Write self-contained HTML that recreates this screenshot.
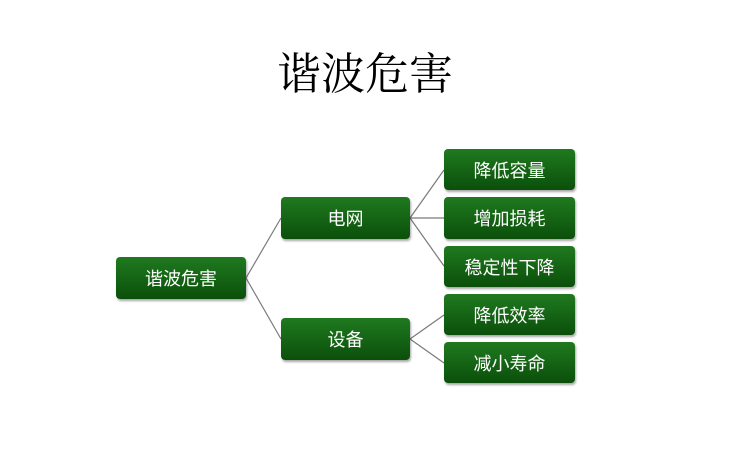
<!DOCTYPE html>
<html><head><meta charset="utf-8"><style>
html,body{margin:0;padding:0;background:#fff;}
body{width:750px;height:450px;position:relative;overflow:hidden;font-family:"Liberation Sans","Noto Sans CJK SC",sans-serif;}
.t{position:absolute;left:0;width:730px;top:38px;text-align:center;font-family:"Liberation Serif","Noto Serif CJK SC",serif;font-size:44px;color:#000;}
.b{position:absolute;box-sizing:border-box;border-radius:4px;background:linear-gradient(#1f7a1f,#0b4f0b);color:#fff;font-size:18px;display:flex;align-items:center;justify-content:center;box-shadow:1px 2px 2px rgba(0,0,0,.35);}
svg{position:absolute;left:0;top:0;}
</style></head><body>
<div class="t">谐波危害</div>
<svg width="750" height="450"><g stroke="#7a7a7a" stroke-width="1.2" fill="none">
<line x1="246" y1="278" x2="281" y2="218"/><line x1="246" y1="278" x2="281" y2="339"/>
<line x1="410" y1="218" x2="444" y2="170"/><line x1="410" y1="218" x2="444" y2="218"/><line x1="410" y1="218" x2="444" y2="266"/>
<line x1="410" y1="339" x2="444" y2="315"/><line x1="410" y1="339" x2="444" y2="363"/>
</g></svg>
<div class="b" style="left:116px;top:257px;width:130px;height:42px">谐波危害</div>
<div class="b" style="left:281px;top:197px;width:129px;height:42px">电网</div>
<div class="b" style="left:281px;top:318px;width:129px;height:42px">设备</div>
<div class="b" style="left:444px;top:149px;width:131px;height:41px">降低容量</div>
<div class="b" style="left:444px;top:197px;width:131px;height:42px">增加损耗</div>
<div class="b" style="left:444px;top:246px;width:131px;height:41px">稳定性下降</div>
<div class="b" style="left:444px;top:294px;width:131px;height:41px">降低效率</div>
<div class="b" style="left:444px;top:342px;width:131px;height:41px">减小寿命</div>
</body></html>
